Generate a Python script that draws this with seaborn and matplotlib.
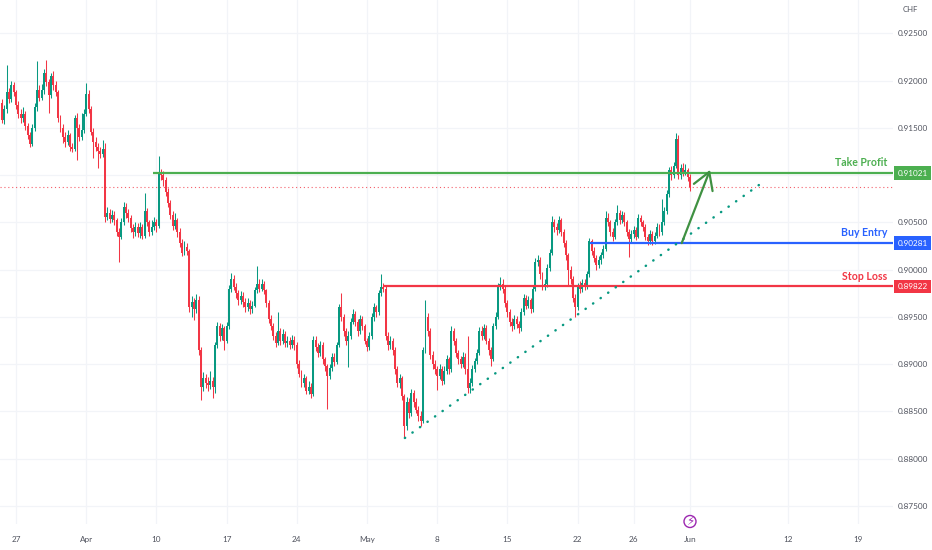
import numpy as np
import pandas as pd
import matplotlib
matplotlib.use("Agg")
import matplotlib.pyplot as plt
from matplotlib.patches import Ellipse
import seaborn as sns

# ---------------- data (prices in pips, 1 pip = 0.0001 CHF), 4h candles ----------------
FIRST_OPEN_PIPS = 9176
CLOSE_PIPS = [
    9158, 9170, 9188, 9180, 9195, 9188, 9174, 9165, 9160, 9165,
    9152, 9142, 9133, 9150, 9172, 9190, 9182, 9190, 9208, 9198,
    9185, 9205, 9195, 9188, 9160, 9150, 9140, 9135, 9142, 9130,
    9128, 9160, 9150, 9140, 9148, 9165, 9186, 9170, 9146, 9135,
    9130, 9125, 9122, 9128, 9056, 9060, 9054, 9058, 9052, 9040,
    9035, 9050, 9066, 9060, 9055, 9044, 9040, 9045, 9039, 9045,
    9036, 9062, 9050, 9040, 9045, 9050, 9046, 9102, 9100, 9095,
    9082, 9070, 9058, 9046, 9052, 9040, 9028, 9018, 9024, 9020,
    8960, 8966, 8958, 8968, 8915, 8876, 8885, 8880, 8878, 8882,
    8876, 8920, 8940, 8930, 8938, 8925, 8940, 8980, 8990, 8982,
    8975, 8968, 8972, 8966, 8960, 8965, 8958, 8962, 8978, 8985,
    8980, 8985, 8978, 8965, 8948, 8940, 8930, 8922, 8935, 8925,
    8932, 8922, 8925, 8920, 8926, 8920, 8900, 8890, 8880, 8885,
    8872, 8876, 8868, 8926, 8918, 8912, 8920, 8905, 8898, 8888,
    8896, 8908, 8902, 8920, 8960, 8950, 8935, 8925, 8930, 8945,
    8953, 8945, 8935, 8948, 8940, 8925, 8918, 8930, 8950, 8960,
    8955, 8975, 8982, 8980, 8930, 8920, 8925, 8915, 8895, 8880,
    8885, 8866, 8835, 8860, 8848, 8870, 8860, 8852, 8845, 8840,
    8915, 8950, 8935, 8910, 8900, 8895, 8888, 8895, 8882, 8893,
    8905, 8895, 8935, 8925, 8912, 8905, 8900, 8908, 8895, 8875,
    8880, 8895, 8903, 8912, 8935, 8930, 8938, 8925, 8915, 8905,
    8940, 8950, 8982, 8985, 8980, 8965, 8955, 8945, 8940, 8948,
    8942, 8938, 8955, 8970, 8962, 8968, 8958, 8980, 9008, 9010,
    8995, 8982, 8985, 9002, 9018, 9050, 9045, 9042, 9052, 9040,
    9028, 9015, 9000, 8990, 8970, 8960, 8982, 8980, 8986, 8983,
    8995, 9030, 9020, 9012, 9005, 9010, 9015, 9022, 9055, 9050,
    9040, 9035, 9050, 9060, 9052, 9058, 9050, 9040, 9032, 9038,
    9042, 9035, 9055, 9050, 9045, 9035, 9030, 9038, 9030, 9036,
    9045, 9040, 9050, 9062, 9080, 9105, 9100, 9110, 9138, 9100,
    9108, 9103, 9105, 9098, 9087,
]
HIGH_PIPS = [
    9180, 9174, 9216, 9192, 9200, 9198, 9190, 9178, 9170, 9172,
    9168, 9155, 9146, 9154, 9176, 9221, 9195, 9196, 9212, 9222,
    9202, 9208, 9210, 9200, 9190, 9164, 9154, 9146, 9148, 9145,
    9134, 9164, 9166, 9154, 9166, 9170, 9197, 9190, 9173, 9150,
    9140, 9134, 9130, 9137, 9134, 9066, 9064, 9063, 9062, 9055,
    9044, 9055, 9072, 9070, 9064, 9058, 9048, 9050, 9049, 9050,
    9048, 9081, 9065, 9053, 9052, 9056, 9054, 9120, 9106, 9104,
    9098, 9086, 9074, 9062, 9060, 9055, 9044, 9032, 9030, 9028,
    9022, 8972, 8970, 8974, 8972, 8918, 8892, 8890, 8886, 8893,
    8886, 8924, 8945, 8944, 8943, 8940, 8945, 8984, 8996, 8994,
    8986, 8978, 8977, 8976, 8970, 8970, 8968, 8967, 8982, 9004,
    8990, 8990, 8988, 8980, 8968, 8952, 8944, 8934, 8955, 8938,
    8937, 8935, 8930, 8929, 8931, 8930, 8923, 8904, 8894, 8890,
    8888, 8882, 8880, 8930, 8930, 8922, 8925, 8923, 8908, 8900,
    8900, 8912, 8912, 8924, 8964, 8975, 8953, 8938, 8935, 8949,
    8958, 8956, 8948, 8952, 8951, 8943, 8928, 8934, 8954, 8965,
    8963, 8979, 8995, 8986, 8984, 8934, 8930, 8928, 8918, 8898,
    8890, 8888, 8869, 8865, 8864, 8874, 8873, 8864, 8856, 8850,
    8918, 8968, 8954, 8938, 8914, 8904, 8898, 8900, 8898, 8898,
    8910, 8908, 8940, 8938, 8928, 8915, 8909, 8913, 8912, 8930,
    8885, 8899, 8907, 8916, 8939, 8940, 8943, 8941, 8928, 8918,
    8944, 8955, 8986, 8992, 8990, 8983, 8968, 8958, 8949, 8952,
    8951, 8946, 8959, 8974, 8973, 8972, 8970, 8984, 9012, 9015,
    9013, 8998, 8990, 9006, 9022, 9057, 9054, 9049, 9057, 9055,
    9043, 9031, 9018, 9004, 8993, 8974, 8986, 8988, 8990, 8990,
    8999, 9033, 9032, 9024, 9015, 9014, 9019, 9026, 9062, 9060,
    9053, 9044, 9054, 9068, 9063, 9062, 9061, 9053, 9043, 9042,
    9046, 9045, 9059, 9058, 9053, 9048, 9038, 9042, 9041, 9040,
    9049, 9048, 9075, 9066, 9084, 9109, 9110, 9114, 9145, 9142,
    9112, 9113, 9112, 9108, 9101,
]
LOW_PIPS = [
    9155, 9154, 9166, 9176, 9177, 9184, 9170, 9160, 9155, 9156,
    9148, 9138, 9130, 9131, 9147, 9168, 9178, 9179, 9186, 9194,
    9166, 9182, 9190, 9184, 9156, 9146, 9134, 9130, 9132, 9125,
    9124, 9126, 9116, 9136, 9137, 9145, 9162, 9166, 9142, 9118,
    9125, 9108, 9118, 9119, 9050, 9052, 9049, 9050, 9047, 9036,
    9008, 9032, 9047, 9055, 9050, 9040, 9034, 9036, 9035, 9034,
    9032, 9034, 9046, 9036, 9037, 9042, 9040, 9044, 9095, 9088,
    9078, 9066, 9054, 9042, 9043, 9035, 9024, 9014, 9015, 9016,
    8955, 8950, 8947, 8954, 8910, 8862, 8872, 8875, 8872, 8874,
    8864, 8870, 8917, 8925, 8926, 8915, 8922, 8937, 8976, 8978,
    8970, 8963, 8964, 8960, 8955, 8956, 8953, 8954, 8960, 8975,
    8976, 8977, 8974, 8961, 8944, 8936, 8926, 8918, 8920, 8920,
    8921, 8918, 8918, 8916, 8917, 8915, 8896, 8886, 8876, 8876,
    8868, 8869, 8864, 8866, 8914, 8908, 8909, 8900, 8893, 8853,
    8884, 8893, 8898, 8900, 8918, 8946, 8930, 8920, 8897, 8927,
    8942, 8940, 8930, 8932, 8936, 8921, 8914, 8915, 8927, 8946,
    8950, 8952, 8972, 8976, 8926, 8915, 8916, 8910, 8890, 8876,
    8875, 8862, 8822, 8830, 8843, 8845, 8855, 8848, 8840, 8835,
    8838, 8912, 8930, 8905, 8895, 8890, 8873, 8884, 8878, 8879,
    8890, 8890, 8892, 8920, 8908, 8900, 8896, 8897, 8890, 8870,
    8870, 8877, 8892, 8900, 8910, 8926, 8927, 8921, 8910, 8898,
    8903, 8937, 8948, 8978, 8975, 8960, 8950, 8940, 8935, 8937,
    8938, 8933, 8935, 8952, 8958, 8959, 8954, 8955, 8977, 9004,
    8990, 8978, 8978, 8982, 8999, 9015, 9040, 9037, 9039, 9036,
    9024, 9010, 8983, 8985, 8966, 8950, 8957, 8975, 8976, 8978,
    8980, 8992, 9016, 9008, 9000, 9002, 9006, 9012, 9020, 9046,
    9036, 9030, 9032, 9047, 9048, 9049, 9046, 9036, 9013, 9028,
    9034, 9031, 9033, 9046, 9041, 9031, 9026, 9027, 9026, 9027,
    9033, 9036, 9037, 9047, 9059, 9077, 9095, 9097, 9107, 9096,
    9096, 9099, 9100, 9094, 9083,
]

# time axis (bar index of the labelled session start)
DATE_TICK_POS = [6, 36, 66, 96, 126, 156, 186, 216, 246, 270, 294, 336, 366]
DATE_TICK_LABELS = ["27", "Apr", "10", "17", "24", "May", "8", "15", "22", "26", "Jun", "12", "19"]
PRICE_TICKS = [0.875, 0.880, 0.885, 0.890, 0.895, 0.900, 0.905, 0.910, 0.915, 0.920, 0.925]
HIDDEN_PRICE_TICKS = [0.910]

# trade levels
LEVEL_NAMES = ["Take Profit", "Buy Entry", "Stop Loss"]
LEVEL_PRICES = [0.91021, 0.90281, 0.89822]
LEVEL_START = [64.5, 251.5, 162.7]
LEVEL_COLORS = ["#4caf50", "#2962ff", "#f23645"]

# drawings
TREND_X = [172.2, 324.9]
TREND_Y = [0.8822, 0.9092]
ARROW_FROM = (290.5, 0.90281)
ARROW_TO = (302.6, 0.91055)

X_LIM = (-0.85, 380.8)
Y_LIM = (0.87310, 0.92852)

UP = "#089981"
DOWN = "#f23645"

# ---------------- build ----------------
close = np.array(CLOSE_PIPS) / 1e4
high = np.array(HIGH_PIPS) / 1e4
low = np.array(LOW_PIPS) / 1e4
open_ = np.concatenate([[FIRST_OPEN_PIPS / 1e4], close[:-1]])
high = np.maximum(high, np.maximum(open_, close))
low = np.minimum(low, np.minimum(open_, close))
df = pd.DataFrame({"i": np.arange(len(close)), "open": open_, "high": high,
                   "low": low, "close": close})
df["up"] = df["close"] >= df["open"]

sns.set_theme(style="white")
plt.rcParams["font.family"] = ["Lato", "DejaVu Sans"]

fig = plt.figure(figsize=(9.32, 5.5), dpi=100)
ax = fig.add_axes([0.0, 26 / 550, 893 / 932, 524 / 550])
ax.set_facecolor("white")
for s in ax.spines.values():
    s.set_visible(False)

ax.set_xlim(*X_LIM)
ax.set_ylim(*Y_LIM)

# grid
for p in PRICE_TICKS:
    ax.axhline(p, color="#f2f4f8", lw=0.9, zorder=0)
for xpos in DATE_TICK_POS:
    ax.axvline(xpos, color="#f2f4f8", lw=0.9, zorder=0)

# candles
colors = np.where(df["up"], UP, DOWN)
ax.vlines(df["i"], df["low"], df["high"], colors=colors, lw=0.75, zorder=2)
body_bottom = np.minimum(df["open"], df["close"])
body_h = np.maximum(np.abs(df["close"] - df["open"]), 0.00004)
ax.bar(df["i"], body_h, bottom=body_bottom, width=0.84, color=colors,
       linewidth=0, zorder=3)

# current price dotted line
ax.axhline(close[-1], color=DOWN, lw=0.8, ls=(0, (1.0, 2.5)), alpha=0.8, zorder=1)

# trade level lines and labels
for name, price, start, col in zip(LEVEL_NAMES, LEVEL_PRICES, LEVEL_START, LEVEL_COLORS):
    ax.hlines(price, start, X_LIM[1], colors=col, lw=1.6, zorder=4)
    ax.annotate(name, xy=(1.0, price), xycoords=("axes fraction", "data"),
                xytext=(-4, 7.5), textcoords="offset points", ha="right", va="center",
                color=col, fontsize=7.6, fontweight="bold")
    ax.annotate(f"{price:.5f}", xy=(1.0, price), xycoords=("axes fraction", "data"),
                xytext=(3.2, 0), textcoords="offset points", ha="left", va="center",
                color="white", fontsize=5.9,
                bbox=dict(boxstyle="square,pad=0.42", fc=col, ec="none"),
                annotation_clip=False)

# trend line (dotted)
trend = pd.DataFrame({"x": TREND_X, "y": TREND_Y})
sns.lineplot(data=trend, x="x", y="y", ax=ax, color=UP, lw=1.8,
             linestyle=(0, (0.1, 3.6)), dash_capstyle="round", zorder=4, legend=False)

# projection arrow
ax.annotate("", xy=ARROW_TO, xytext=ARROW_FROM,
            arrowprops=dict(arrowstyle="->,head_length=0.6,head_width=0.36",
                            color="#3f9142", lw=1.6, mutation_scale=20,
                            shrinkA=0, shrinkB=0), zorder=5)

# axes ticks
ax.yaxis.tick_right()
ax.set_yticks(PRICE_TICKS)
ax.set_yticklabels(["" if p in HIDDEN_PRICE_TICKS else f"{p:.5f}" for p in PRICE_TICKS])
ax.tick_params(axis="y", length=0, pad=3.5, labelsize=5.9, labelcolor="#50535e")
ax.set_xticks(DATE_TICK_POS)
ax.set_xticklabels(DATE_TICK_LABELS)
ax.tick_params(axis="x", length=0, pad=8.5, labelsize=5.9, labelcolor="#50535e")
ax.set_xlabel("")
ax.set_ylabel("")
ax.grid(False)

# currency label and event marker
fig.text(903 / 932, 1 - 10 / 550, "CHF", fontsize=5.6, color="#50535e", va="center", ha="left")
cx, cy = 690 / 932, 1 - 521.5 / 550
fig.add_artist(Ellipse((cx, cy), 12 / 932, 12 / 550, transform=fig.transFigure,
                       fc="white", ec="#9c27b0", lw=1.0, zorder=10))
fig.text(cx, cy, "\u26a1", fontsize=8.5, color="#9c27b0", ha="center",
         va="center", family=["DejaVu Sans"], zorder=11)

fig.savefig("out.png", dpi=100)
